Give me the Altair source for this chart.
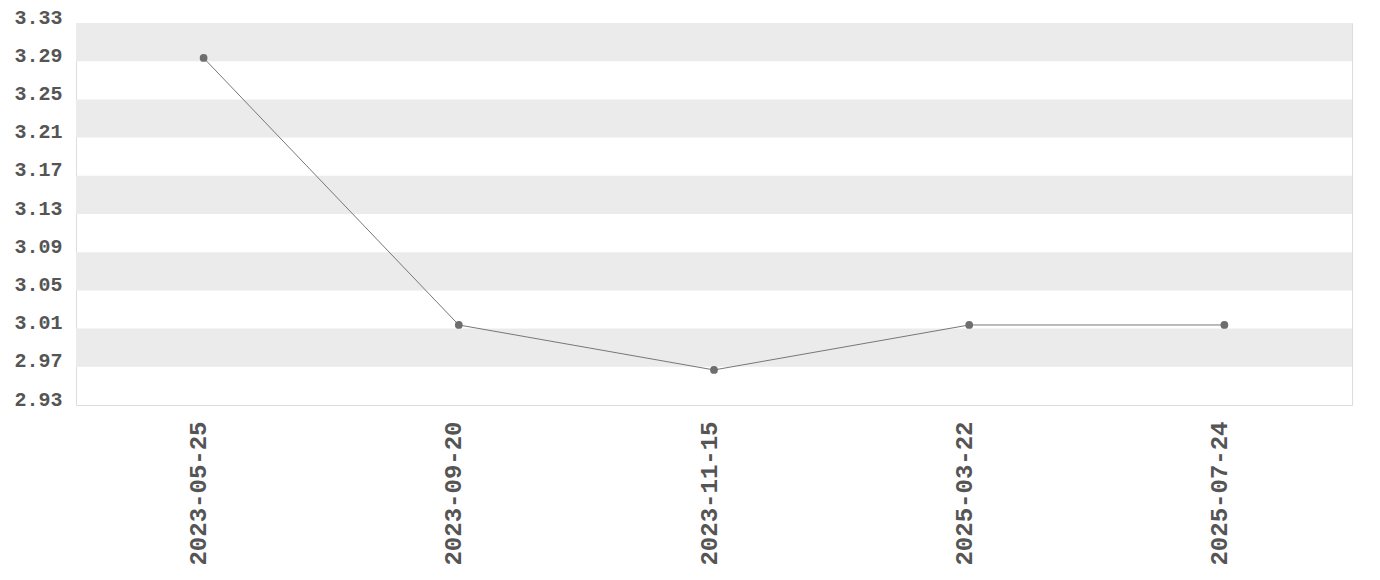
import altair as alt
import pandas as pd

dates = ["2023-05-25", "2023-09-20", "2023-11-15", "2025-03-22", "2025-07-24"]
values = [3.2934, 3.0138, 2.9667, 3.0138, 3.0138]
y_ticks = [2.93, 2.97, 3.01, 3.05, 3.09, 3.13, 3.17, 3.21, 3.25, 3.29, 3.33]

W, H = 1276, 382
FONT = "Liberation Mono"

df = pd.DataFrame({"date": dates, "value": values})

# alternating horizontal bands between consecutive ticks (gray from the top down)
band_rows = []
for i in range(len(y_ticks) - 1):
    lo, hi = y_ticks[i], y_ticks[i + 1]
    if (len(y_ticks) - 2 - i) % 2 == 0:
        band_rows.append({"lo": lo, "hi": hi})
bands_df = pd.DataFrame(band_rows)

yscale = alt.Scale(domain=[y_ticks[0], y_ticks[-1]], nice=False, zero=False)
yaxis = alt.Axis(values=y_ticks, format=".2f", title=None, grid=False,
                 domain=False, ticks=False, labelPadding=14,
                 labelOverlap=False, labelFlush=False,
                 labelFont=FONT, labelFontWeight="bold", labelFontSize=20,
                 labelColor="#555555", labelBaseline="alphabetic")
xaxis = alt.Axis(title=None, labelAngle=-90, domain=False, ticks=False,
                 labelPadding=16, labelOverlap=False, labelFont=FONT,
                 labelFontWeight="bold", labelFontSize=24, labelOffset=-5,
                 labelColor="#555555", labelLimit=300,
                 labelAlign="right", labelBaseline="middle")

bands = alt.Chart(bands_df).mark_rect(color="#ebebeb").encode(
    x=alt.value(0),
    x2=alt.value(W),
    y=alt.Y("lo:Q", scale=yscale, axis=yaxis),
    y2="hi:Q",
)

line = alt.Chart(df).mark_line(color="#777777", strokeWidth=1).encode(
    x=alt.X("date:O", sort=None, axis=xaxis),
    y=alt.Y("value:Q", scale=yscale, axis=yaxis),
)

points = alt.Chart(df).mark_point(filled=True, color="#6e6e6e", size=60, opacity=1).encode(
    x=alt.X("date:O", sort=None, axis=xaxis),
    y=alt.Y("value:Q", scale=yscale, axis=yaxis),
)

chart = alt.layer(bands, line, points).properties(
    width=W, height=H,
    autosize=alt.AutoSizeParams(type="none"),
    padding={"left": 68, "top": 15, "right": 20, "bottom": 170},
).configure_view(stroke="#dddddd", strokeWidth=1)

chart.save("out.html", embed_options={"renderer": "svg", "actions": False})
